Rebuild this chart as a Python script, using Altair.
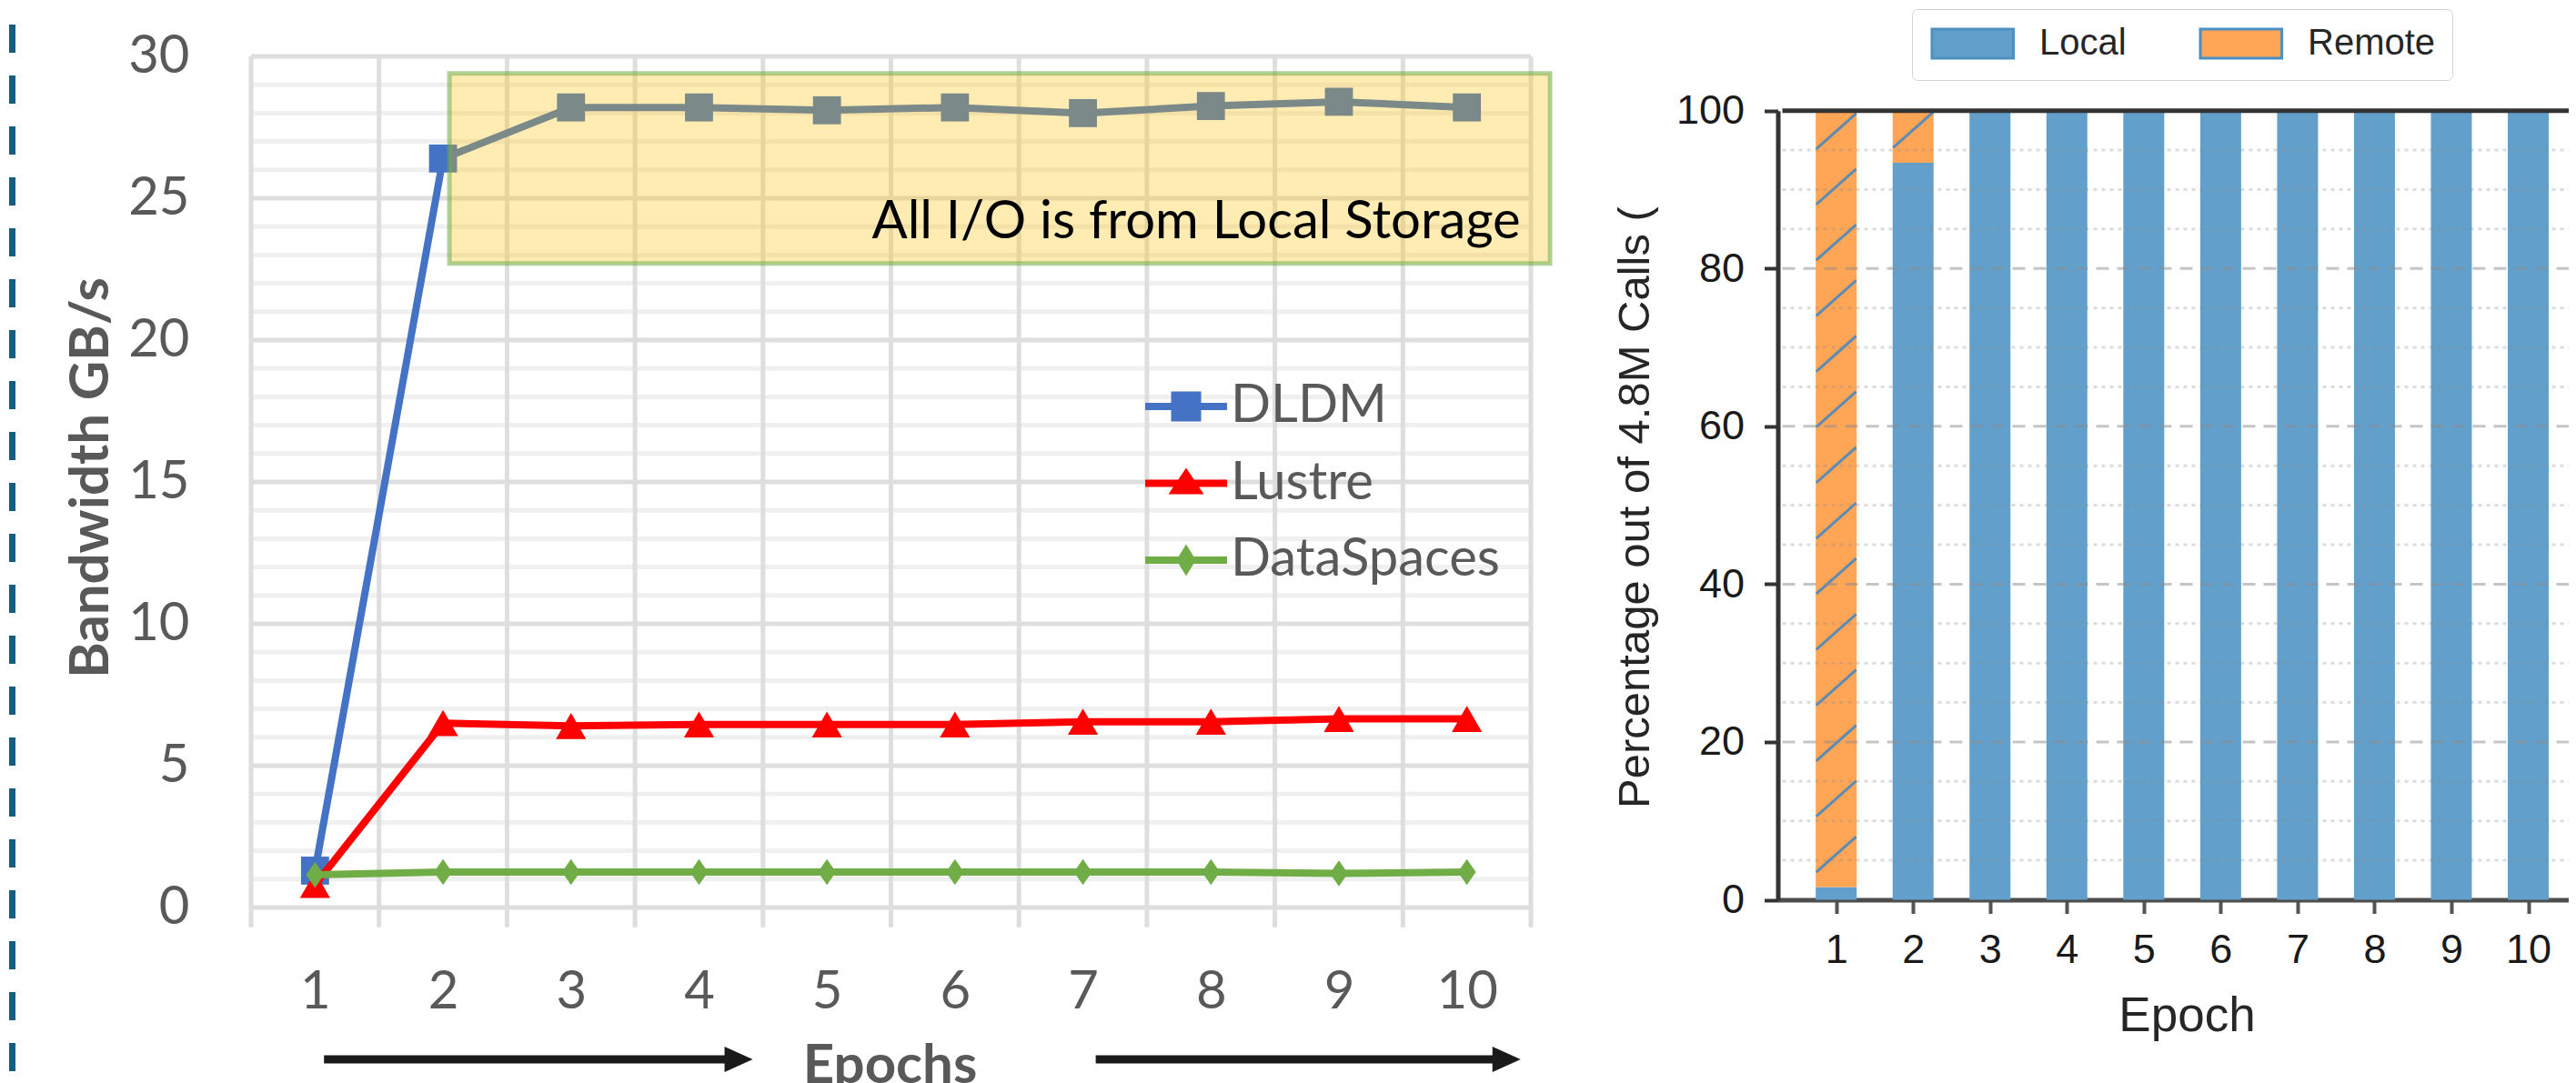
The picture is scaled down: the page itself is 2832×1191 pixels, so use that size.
import altair as alt
import pandas as pd

# ------------------------------------------------------------------
# Data – left panel (Excel style line chart)
# ------------------------------------------------------------------
epochs = [1, 2, 3, 4, 5, 6, 7, 8, 9, 10]
series_names = ["DLDM", "Lustre", "DataSpaces"]
dldm_gbps = [1.3, 26.4, 28.2, 28.2, 28.1, 28.2, 28.0, 28.25, 28.4, 28.2]
lustre_gbps = [0.8, 6.5, 6.4, 6.45, 6.45, 6.45, 6.55, 6.55, 6.65, 6.65]
dataspaces_gbps = [1.15, 1.25, 1.25, 1.25, 1.25, 1.25, 1.25, 1.25, 1.2, 1.25]
left_y_ticks = [0, 5, 10, 15, 20, 25, 30]
left_minor_ticks = [1, 2, 3, 4, 6, 7, 8, 9, 11, 12, 13, 14, 16, 17, 18, 19,
                    21, 22, 23, 24, 26, 27, 28, 29]
category_edges = [0.5, 1.5, 2.5, 3.5, 4.5, 5.5, 6.5, 7.5, 8.5, 9.5, 10.5]
note_text = ["All I/O is from Local Storage"]
note_box_x = [2.05, 10.65]      # epoch units
note_box_y = [22.7, 29.4]       # GB/s units
note_text_pos = [10.42, 23.6]   # epoch, GB/s
arrow_from = [1.07, 7.1]        # epoch units
arrow_to = [4.42, 10.42]

# ------------------------------------------------------------------
# Data – right panel (matplotlib style stacked bars)
# ------------------------------------------------------------------
call_kinds = ["Local", "Remote"]
local_pct = [1.6, 93.4, 100, 100, 100, 100, 100, 100, 100, 100]
remote_pct = [98.4, 6.6, 0, 0, 0, 0, 0, 0, 0, 0]
right_y_ticks = [0, 20, 40, 60, 80, 100]
right_minor_ticks = [5, 10, 15, 25, 30, 35, 45, 50, 55, 65, 70, 75, 85, 90, 95]

# ------------------------------------------------------------------
# Styles
# ------------------------------------------------------------------
series_colors = ["#4472C4", "#FF0000", "#70AD47"]
series_marks = [("square", 950), ("triangle-up", 1100),
                ("M0,-0.65L0.45,0L0,0.65L-0.45,0Z", 1936)]
legend_paths = [
    "M-1.5,0H1.5M-0.417,-0.417H0.417V0.417H-0.417Z",
    "M-1.5,0H1.5M0,-0.33L0.4,0.27H-0.4Z",
    "M-1.5,0H1.5M0,-0.33L0.2,0L0,0.33L-0.2,0Z",
]
call_colors = ["#62A0CB", "#FFA556"]
XL_FONT = "Lato"
XR_FONT = "Liberation Sans"
GREY_TXT = "#595959"

W, H = 2816, 1183

XL = alt.Scale(domain=[0.5, 10.5], range=[268, 1675], nice=False, zero=False)
YL = alt.Scale(domain=[0, 30], range=[990, 54], nice=False, zero=False)
XR = alt.Scale(domain=[0.3, 10.7], range=[1946.5, 2835.7], nice=False, zero=False)
YR = alt.Scale(domain=[0, 100], range=[981.5, 113.7], nice=False, zero=False)

AXL_X = alt.Axis(orient="bottom", values=epochs, title="Epochs", offset=-100,
                 ticks=False, domain=False, grid=False, labelPadding=0,
                 labelFont=XL_FONT, labelFontSize=58, labelColor=GREY_TXT,
                 labelBaseline="middle", labelFlush=False, labelOverlap=False,
                 titleFont=XL_FONT, titleFontSize=60, titleFontWeight="bold",
                 titleColor=GREY_TXT, titleX=970, titleY=52,
                 titleBaseline="top", titleAlign="center")
AXL_Y = alt.Axis(orient="left", values=left_y_ticks, title="Bandwidth GB/s",
                 offset=-268, ticks=False, domain=False, grid=False,
                 labelPadding=68, labelFont=XL_FONT, labelFontSize=58,
                 labelColor=GREY_TXT, labelBaseline="middle",
                 labelOverlap=False,
                 titleAngle=270, titleFont=XL_FONT, titleFontSize=60,
                 titleFontWeight="bold", titleColor=GREY_TXT,
                 titleX=-158, titleY=517, titleBaseline="alphabetic",
                 titleAlign="center")
AXR_X = alt.Axis(orient="bottom", values=epochs, title="Epoch", offset=-201.5,
                 domain=True, domainColor="#4d4d4d", domainWidth=5,
                 ticks=True, tickSize=15, tickWidth=4, tickColor="#555555",
                 labelPadding=40, labelBaseline="middle", labelFont=XR_FONT,
                 labelFontSize=45, labelColor="#1a1a1a", labelFlush=False,
                 labelOverlap=False, grid=False,
                 titleFont=XR_FONT, titleFontSize=53, titleFontWeight="normal",
                 titleColor="#262626", titleX=2396, titleY=143.5,
                 titleBaseline="alphabetic", titleAlign="center")
AXR_Y = alt.Axis(orient="left", values=right_y_ticks,
                 title="Percentage out of 4.8M Calls (", offset=-1946.5,
                 domain=True, domainColor="#333333", domainWidth=5,
                 ticks=True, tickSize=15, tickWidth=4, tickColor="#333333",
                 labelPadding=22, labelFont=XR_FONT, labelFontSize=45,
                 labelColor="#1a1a1a", labelBaseline="middle",
                 labelOverlap=False, grid=False,
                 titleAngle=270, titleFont=XR_FONT, titleFontSize=49,
                 titleFontWeight="normal", titleColor="#262626",
                 titleX=-142.5, titleY=549.5, titleBaseline="alphabetic",
                 titleAlign="center")


def lx(f):
    return alt.X(f, scale=XL, axis=AXL_X)


def ly(f):
    return alt.Y(f, scale=YL, axis=AXL_Y)


def rx(f):
    return alt.X(f, scale=XR, axis=AXR_X)


def ry(f):
    return alt.Y(f, scale=YR, axis=AXR_Y)


# ------------------------------------------------------------------
# Left panel layers
# ------------------------------------------------------------------
left_layers = []

minor_df = pd.DataFrame({"v": left_minor_ticks})
left_layers.append(
    alt.Chart(minor_df).mark_rule(color="#F0F0F0", strokeWidth=5).encode(
        y=ly("v:Q"),
        x=alt.XDatum(0.5, type="quantitative", scale=XL, axis=AXL_X),
        x2=alt.X2Datum(10.5),
    ))
major_df = pd.DataFrame({"v": left_y_ticks})
left_layers.append(
    alt.Chart(major_df).mark_rule(color="#DEDEDE", strokeWidth=5).encode(
        y=ly("v:Q"),
        x=alt.XDatum(0.5, type="quantitative", scale=XL, axis=AXL_X),
        x2=alt.X2Datum(10.5),
    ))
edges_df = pd.DataFrame({"e": category_edges})
left_layers.append(
    alt.Chart(edges_df).mark_rule(color="#DEDEDE", strokeWidth=5).encode(
        x=lx("e:Q"),
        y=alt.YDatum(-0.7, type="quantitative", scale=YL, axis=AXL_Y),
        y2=alt.Y2Datum(30),
    ))

for name, vals, col, (shp, sz) in zip(series_names,
                                      [dldm_gbps, lustre_gbps, dataspaces_gbps],
                                      series_colors, series_marks):
    df = pd.DataFrame({"epoch": epochs, "gbps": vals, "series": name})
    left_layers.append(
        alt.Chart(df).mark_line(color=col, strokeWidth=8).encode(
            x=lx("epoch:Q"), y=ly("gbps:Q")))
    left_layers.append(
        alt.Chart(df).mark_point(filled=True, opacity=1, color=col, shape=shp,
                                 size=sz, strokeWidth=0).encode(
            x=lx("epoch:Q"), y=ly("gbps:Q")))

box_df = pd.DataFrame({"x0": [note_box_x[0]], "x1": [note_box_x[1]],
                       "y0": [note_box_y[0]], "y1": [note_box_y[1]]})
left_layers.append(
    alt.Chart(box_df).mark_rect(fill="#FFC000", fillOpacity=0.3,
                                stroke="#70AD47", strokeOpacity=0.55,
                                strokeWidth=5).encode(
        x=lx("x0:Q"), x2="x1:Q", y=ly("y0:Q"), y2="y1:Q"))

txt_df = pd.DataFrame({"t": note_text, "x": [note_text_pos[0]],
                       "y": [note_text_pos[1]]})
left_layers.append(
    alt.Chart(txt_df).mark_text(align="right", baseline="alphabetic",
                                font=XL_FONT, fontSize=58,
                                color="#000000").encode(
        x=lx("x:Q"), y=ly("y:Q"), text="t:N"))

arr_df = pd.DataFrame({"x0": arrow_from, "x1": arrow_to})
left_layers.append(
    alt.Chart(arr_df).mark_rule(color="#1a1a1a", strokeWidth=9,
                                x2Offset=-16).encode(
        x=lx("x0:Q"), x2="x1:Q", y=alt.value(1157)))
left_layers.append(
    alt.Chart(arr_df).mark_point(shape="M1,0L-1,-0.9L-1,0.9Z", size=961,
                                 filled=True, opacity=1, color="#1a1a1a",
                                 strokeWidth=0, xOffset=-15.5).encode(
        x=lx("x1:Q"), y=alt.value(1157)))

border_df = pd.DataFrame({"k": [0]})
left_layers.append(
    alt.Chart(border_df).mark_rule(color="#175B7E", strokeWidth=7,
                                   strokeDash=[31, 25],
                                   strokeDashOffset=37).encode(
        x=alt.value(5.5), y=alt.value(0), y2=alt.value(H)))

legend_l = alt.Legend(orient="none", legendX=1262, legendY=405, title=None,
                      direction="vertical", labelFont=XL_FONT,
                      labelFontSize=58, labelColor=GREY_TXT, labelOffset=15,
                      rowPadding=21.5, symbolSize=3600, symbolStrokeWidth=8,
                      symbolOpacity=1, padding=0, labelLimit=1000)
leg_df = pd.DataFrame({"series": series_names})
left_layers.append(
    alt.Chart(leg_df).mark_point(filled=True, opacity=1).encode(
        color=alt.Color("series:N",
                        scale=alt.Scale(domain=series_names,
                                        range=series_colors),
                        legend=legend_l),
        stroke=alt.Stroke("series:N",
                          scale=alt.Scale(domain=series_names,
                                          range=series_colors),
                          legend=legend_l),
        shape=alt.Shape("series:N",
                        scale=alt.Scale(domain=series_names,
                                        range=legend_paths),
                        legend=legend_l),
    ).transform_filter("false"))

left = alt.layer(*left_layers)

# ------------------------------------------------------------------
# Right panel layers
# ------------------------------------------------------------------
right_layers = []
bar_rows = []
for e, lo, re in zip(epochs, local_pct, remote_pct):
    bar_rows.append({"epoch": e, "kind": "Local", "pct": lo, "k": 0})
    bar_rows.append({"epoch": e, "kind": "Remote", "pct": re, "k": 1})
bar_df = pd.DataFrame(bar_rows)

legend_r = alt.Legend(orient="none", legendX=2094, legendY=2,
                      direction="horizontal", title=None,
                      symbolType="M-1,-1H4.6V1H-1Z", symbolSize=1024,
                      symbolStrokeColor="#4a90c2", symbolStrokeWidth=3,
                      symbolOpacity=1,
                      labelFont=XR_FONT, labelFontSize=40,
                      labelColor="#262626", labelOffset=82,
                      columnPadding=75, padding=18, fillColor="white",
                      strokeColor="#d3d3d3", cornerRadius=6, labelLimit=1000)

right_layers.append(
    alt.Chart(bar_df).mark_bar(size=45, opacity=1).encode(
        x=rx("epoch:Q"),
        y=alt.Y("pct:Q", stack="zero", scale=YR, axis=AXR_Y),
        color=alt.Color("kind:N",
                        scale=alt.Scale(domain=call_kinds, range=call_colors),
                        legend=legend_r),
        order=alt.Order("k:Q"),
    ))

# hatch texture on the remote segments
HATCH_PHASE, HATCH_PERIOD, HATCH_RISE, HATCH_HALF = 1.9, 7.05, 4.5, 0.26
hatch_rows = []
for e, lo, re in zip(epochs, local_pct, remote_pct):
    if re <= 0:
        continue
    y0 = lo + HATCH_PHASE
    while y0 + HATCH_RISE <= lo + re:
        hatch_rows.append({"x0": e - HATCH_HALF, "x1": e + HATCH_HALF,
                           "y0": y0, "y1": y0 + HATCH_RISE})
        y0 += HATCH_PERIOD
hatch_df = pd.DataFrame(hatch_rows)
right_layers.append(
    alt.Chart(hatch_df).mark_rule(color="#3f86c4", strokeWidth=3,
                                  opacity=0.85).encode(
        x=rx("x0:Q"), x2="x1:Q", y=ry("y0:Q"), y2="y1:Q"))

rminor_df = pd.DataFrame({"v": right_minor_ticks})
right_layers.append(
    alt.Chart(rminor_df).mark_rule(color="#8c8c8c", opacity=0.3,
                                   strokeWidth=3,
                                   strokeDash=[4, 5]).encode(
        y=ry("v:Q"),
        x=alt.XDatum(0.3, type="quantitative", scale=XR, axis=AXR_X),
        x2=alt.X2Datum(10.7)))
rmajor_df = pd.DataFrame({"v": [v for v in right_y_ticks if 0 < v < 100]})
right_layers.append(
    alt.Chart(rmajor_df).mark_rule(color="#8c8c8c", opacity=0.5,
                                   strokeWidth=3,
                                   strokeDash=[14, 9]).encode(
        y=ry("v:Q"),
        x=alt.XDatum(0.3, type="quantitative", scale=XR, axis=AXR_X),
        x2=alt.X2Datum(10.7)))
right_layers.append(
    alt.Chart(pd.DataFrame({"v": [100]})).mark_rule(color="#333333",
                                                   strokeWidth=5).encode(
        y=ry("v:Q"),
        x=alt.XDatum(0.3, type="quantitative", scale=XR, axis=AXR_X),
        x2=alt.X2Datum(10.7)))

right = alt.layer(*right_layers)

chart = alt.layer(left, right).resolve_scale(
    x="independent", y="independent", color="independent",
    stroke="independent", shape="independent",
).properties(
    width=W, height=H, padding=0, background="white",
    autosize=alt.AutoSizeParams(type="none"),
).configure_view(stroke=None)

chart.save("out.html", embed_options={"renderer": "svg", "actions": False})
